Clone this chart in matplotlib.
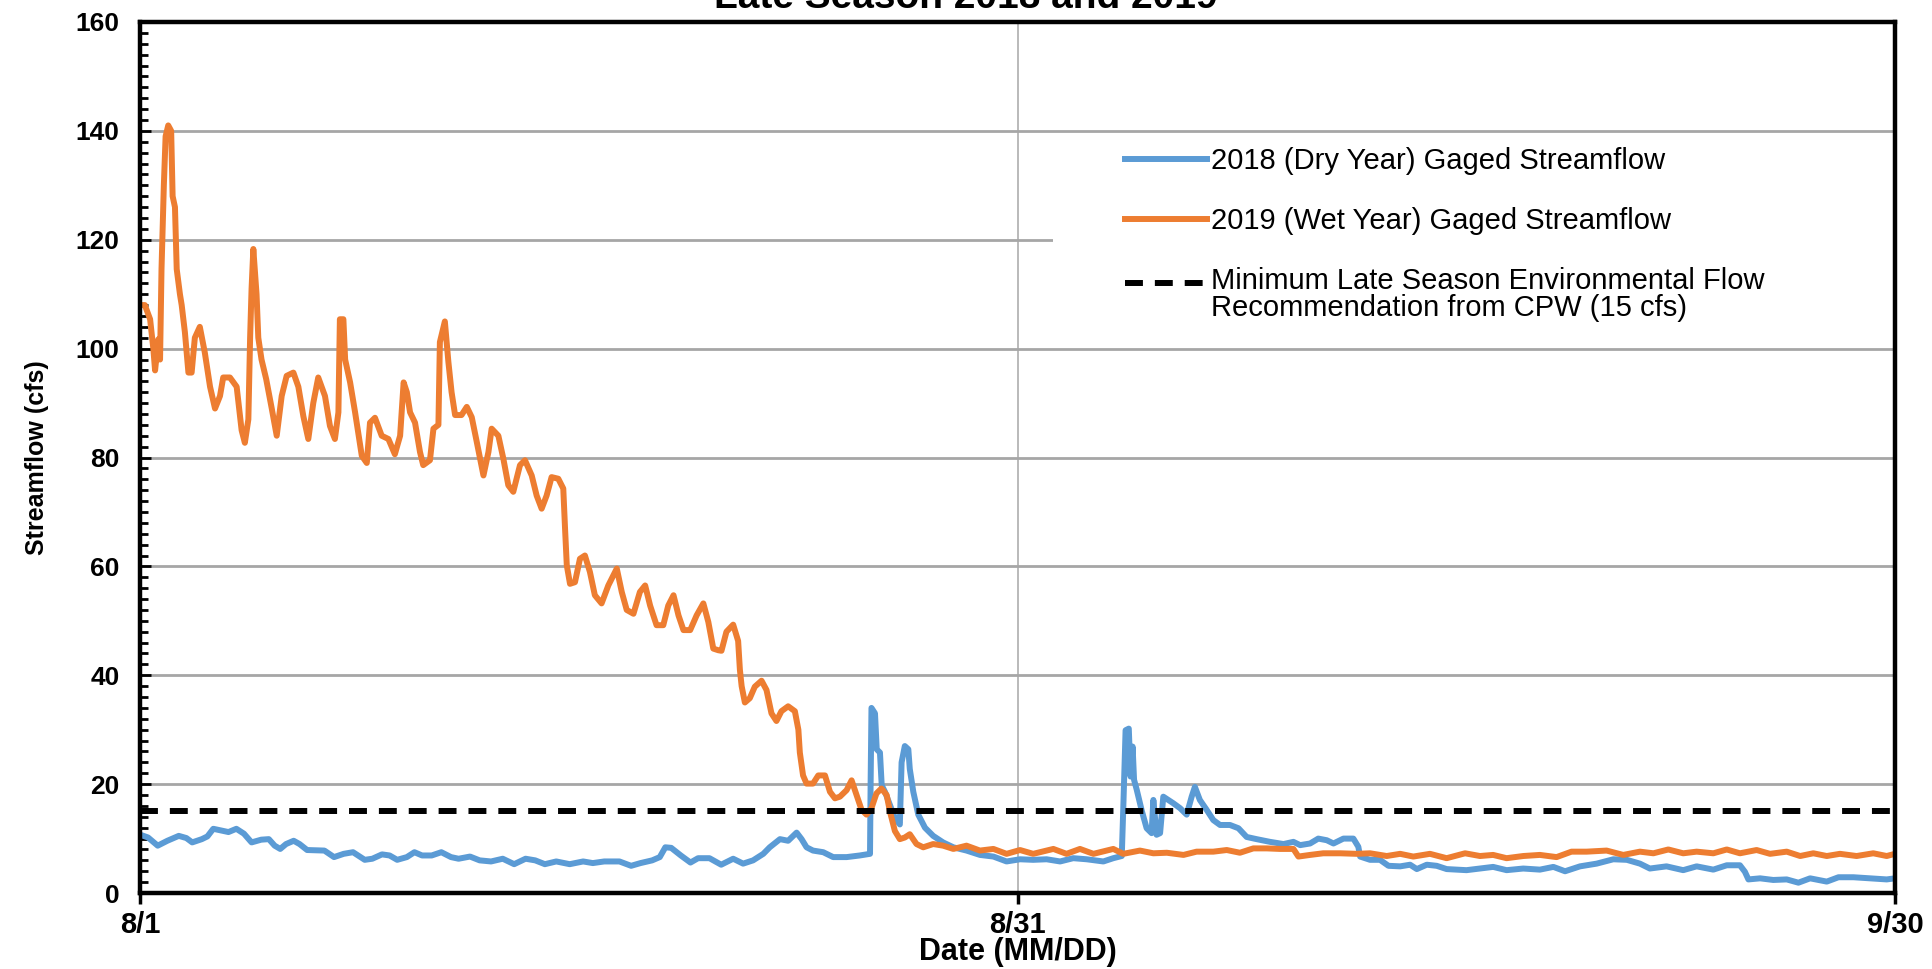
import matplotlib
matplotlib.use('Agg')
import matplotlib.pyplot as plt
import numpy as np
from matplotlib.legend_handler import HandlerLine2D
from matplotlib.patches import Rectangle
from matplotlib.ticker import MultipleLocator

plt.rcParams['font.family'] = ['Liberation Sans', 'DejaVu Sans']

# days after 8/1 and gaged flow (cfs)
days_2018 = [0.00, 0.26, 0.59, 0.92, 1.31, 1.57, 1.77, 2.10, 2.29, 2.49, 2.75, 3.01, 3.28, 3.54,
             3.80, 4.13, 4.39, 4.59, 4.78, 4.98, 5.24, 5.44, 5.70, 6.29, 6.62, 6.95, 7.27, 7.67,
             7.93, 8.26, 8.52, 8.78, 9.11, 9.37, 9.63, 9.96, 10.29, 10.62, 10.88, 11.27, 11.60,
             11.99, 12.39, 12.78, 13.17, 13.50, 13.83, 14.22, 14.68, 15.14, 15.47, 15.86, 16.38,
             16.78, 17.10, 17.50, 17.76, 17.95, 18.15, 18.48, 18.81, 19.07, 19.46, 19.86,
             20.27, 20.61, 20.95, 21.30, 21.52, 21.87, 22.15, 22.44, 22.61, 22.78, 23.00, 23.35,
             23.69, 24.15, 24.60, 24.95, 24.97, 25.00, 25.12, 25.18, 25.29, 25.35, 25.46, 25.63,
             25.80, 25.97, 26.03, 26.14, 26.26, 26.31, 26.43, 26.60, 26.83, 27.11, 27.45, 27.80,
             28.25, 28.71, 29.17, 29.62, 30.08, 30.53, 30.99, 31.45, 31.90, 32.36, 32.93, 33.27,
             33.56, 33.62, 33.69, 33.80, 33.86, 33.93, 33.98, 34.07, 34.24, 34.41, 34.58, 34.64,
             34.75, 34.87, 34.98, 35.15, 35.32, 35.55, 35.78, 35.95, 36.06, 36.23, 36.46, 36.69,
             36.92, 37.26, 37.55, 37.83, 38.17, 38.63, 39.09, 39.43, 39.66, 40.00, 40.28, 40.57,
             40.80, 41.14, 41.48, 41.65, 41.71, 42.05, 42.39, 42.68, 43.08, 43.42, 43.65, 43.99,
             44.33, 44.67, 45.35, 45.81, 46.26, 46.72, 47.29, 47.86, 48.32, 48.72, 49.23, 49.80,
             50.37, 50.83, 51.28, 51.62, 52.19, 52.76, 53.22, 53.79, 54.25, 54.70, 54.87, 54.99,
             55.39, 55.84, 56.30, 56.70, 57.10, 57.67, 58.07, 58.58, 59.15, 59.72, 60.00]
flow_2018 = [10.7, 10.2, 8.7, 9.6, 10.5, 10.1, 9.3, 9.9, 10.4, 11.8, 11.5, 11.2, 11.8, 10.9,
             9.3, 9.8, 9.9, 8.7, 8.1, 9.0, 9.6, 9.0, 7.9, 7.8, 6.6, 7.2, 7.5, 6.1,
             6.3, 7.1, 6.9, 6.1, 6.6, 7.5, 6.9, 6.9, 7.5, 6.6, 6.3, 6.7, 6.0,
             5.8, 6.3, 5.3, 6.3, 6.0, 5.3, 5.8, 5.3, 5.8, 5.5, 5.8, 5.8,
             5.0, 5.5, 6.0, 6.6, 8.4, 8.3, 6.9, 5.6, 6.4, 6.4, 5.2,
             6.3, 5.4, 6.0, 7.2, 8.4, 9.9, 9.6, 11.1, 9.9, 8.4, 7.8, 7.5,
             6.6, 6.6, 6.9, 7.2, 19.8, 34.0, 33.0, 26.4, 25.8, 19.8, 18.6, 16.2,
             13.8, 12.6, 24.0, 27.0, 26.4, 22.8, 18.6, 14.4, 12.0, 10.5, 9.3, 8.4,
             7.8, 7.0, 6.7, 5.8, 6.2, 6.1, 6.2, 5.8, 6.4, 6.2, 5.8, 6.4,
             6.8, 17.1, 29.9, 30.2, 21.4, 26.9, 20.8, 19.0, 15.2, 11.9, 11.0, 17.1,
             10.7, 11.0, 17.7, 17.1, 16.5, 15.6, 14.4, 17.7, 19.5, 17.1, 15.3, 13.4,
             12.5, 12.5, 11.9, 10.3, 9.9, 9.4, 9.0, 9.4, 8.8, 9.1, 10.0, 9.7,
             9.1, 10.0, 10.0, 8.5, 6.7, 6.1, 6.1, 5.0, 4.9, 5.2, 4.4, 5.2,
             5.0, 4.4, 4.2, 4.5, 4.8, 4.2, 4.5, 4.3, 4.8, 4.0, 4.9, 5.4,
             6.2, 6.1, 5.4, 4.5, 4.9, 4.2, 4.9, 4.3, 5.1, 5.1, 3.9, 2.5,
             2.7, 2.4, 2.5, 1.9, 2.7, 2.1, 2.9, 2.9, 2.7, 2.5, 2.7]

days_2019 = [0.00, 0.15, 0.33, 0.44, 0.50, 0.61, 0.67, 0.72, 0.80, 0.86, 0.95, 1.05, 1.10, 1.18,
             1.24, 1.35, 1.41, 1.52, 1.64, 1.75, 1.86, 2.03, 2.20, 2.38, 2.55, 2.72, 2.83, 3.06,
             3.29, 3.46, 3.57, 3.69, 3.75, 3.80, 3.86, 3.97, 4.03, 4.14, 4.30, 4.49, 4.66, 4.83,
             5.00, 5.23, 5.40, 5.57, 5.74, 5.91, 6.08, 6.31, 6.48, 6.65, 6.77, 6.82, 6.94, 7.00,
             7.17, 7.34, 7.57, 7.74, 7.85, 8.02, 8.25, 8.48, 8.70, 8.88, 9.00, 9.11, 9.22, 9.39,
             9.56, 9.67, 9.90, 10.02, 10.19, 10.24, 10.41, 10.53, 10.64, 10.76, 10.98, 11.16,
             11.33, 11.50, 11.73, 11.90, 12.01, 12.24, 12.41, 12.58, 12.75, 12.98, 13.15, 13.38,
             13.55, 13.72, 13.89, 14.06, 14.29, 14.46, 14.52, 14.58, 14.69, 14.86, 15.03, 15.20,
             15.37, 15.54, 15.77, 16.00, 16.29, 16.46, 16.63, 16.86, 17.08, 17.26, 17.43, 17.65,
             17.88, 18.05, 18.23, 18.40, 18.57, 18.80, 19.02, 19.25, 19.42, 19.59, 19.76, 19.87,
             20.04, 20.27, 20.44, 20.50, 20.56, 20.67, 20.84, 21.01, 21.24, 21.41, 21.58, 21.75,
             21.92, 22.15, 22.38, 22.50, 22.55, 22.66, 22.78, 23.00, 23.18, 23.41, 23.58, 23.75,
             23.92, 24.15, 24.32, 24.49, 24.66, 24.83, 25.00, 25.17, 25.34, 25.52, 25.63, 25.80,
             25.97, 26.14, 26.31, 26.54, 26.77, 27.11, 27.45, 27.80, 28.25, 28.71, 29.17, 29.62,
             30.08, 30.53, 31.22, 31.67, 32.13, 32.59, 33.27, 33.61, 34.18, 34.64, 35.10, 35.67,
             36.12, 36.69, 37.15, 37.60, 38.06, 38.52, 38.97, 39.43, 39.60, 40.00, 40.45, 41.03,
             41.60, 42.05, 42.62, 43.08, 43.53, 44.10, 44.67, 45.30, 45.81, 46.26, 46.72, 47.29,
             47.86, 48.43, 48.94, 49.46, 50.14, 50.71, 51.28, 51.74, 52.25, 52.76, 53.22, 53.79,
             54.25, 54.70, 55.27, 55.73, 56.30, 56.76, 57.21, 57.67, 58.12, 58.69, 59.26, 59.72,
             60.00]
flow_2019 = [108.0, 108.0, 105.4, 100.0, 96.0, 101.7, 98.0, 114.6, 130.0, 139.0, 141.0, 140.0, 128.0, 126.0,
             114.6, 110.0, 108.0, 103.0, 95.6, 95.6, 102.0, 104.0, 99.3, 93.0, 89.0, 91.3, 94.7, 94.7,
             93.0, 85.0, 82.7, 87.0, 102.0, 111.0, 118.3, 110.0, 102.0, 98.0, 94.4, 89.0, 84.0, 91.3,
             95.0, 95.6, 93.0, 87.6, 83.4, 90.0, 94.7, 91.3, 85.8, 83.4, 88.3, 105.4, 105.4, 98.0,
             93.8, 88.3, 80.3, 79.0, 86.4, 87.3, 84.0, 83.4, 80.6, 84.0, 93.8, 92.0, 88.3, 86.4,
             81.0, 78.6, 79.5, 85.3, 86.0, 101.2, 105.0, 97.6, 92.0, 87.8, 87.8, 89.3,
             87.4, 82.9, 76.7, 81.0, 85.3, 84.0, 79.8, 74.9, 73.7, 78.6, 79.5, 76.7,
             73.0, 70.6, 73.0, 76.4, 76.1, 74.3, 67.0, 60.2, 56.8, 57.1, 61.4, 62.0,
             59.0, 54.7, 53.2, 56.5, 59.6, 55.3, 52.0, 51.3, 55.3, 56.5, 52.8, 49.2,
             49.2, 52.8, 54.7, 51.0, 48.3, 48.3, 51.0, 53.2, 49.8, 44.9, 44.6, 44.5,
             48.0, 49.3, 46.3, 41.0, 38.0, 35.0, 35.8, 37.9, 39.0, 37.3, 33.0, 31.6,
             33.4, 34.3, 33.4, 30.0, 25.8, 21.6, 20.1, 20.1, 21.6, 21.6, 18.6, 17.4,
             17.7, 18.9, 20.7, 18.0, 15.3, 14.4, 15.6, 18.3, 19.2, 18.0, 15.0, 11.4,
             9.9, 10.2, 10.8, 9.0, 8.4, 9.0, 8.7, 8.1, 8.7, 7.8, 8.1, 7.2,
             7.9, 7.2, 8.1, 7.2, 8.1, 7.2, 8.1, 7.2, 7.8, 7.3, 7.4, 7.0,
             7.6, 7.6, 7.9, 7.4, 8.2, 8.2, 8.1, 8.1, 6.7, 7.0, 7.3, 7.3,
             7.2, 7.3, 6.8, 7.2, 6.7, 7.2, 6.4, 7.3, 6.8, 7.0, 6.4, 6.8,
             7.0, 6.6, 7.6, 7.6, 7.8, 7.0, 7.6, 7.3, 8.0, 7.3, 7.6, 7.3,
             8.0, 7.3, 7.9, 7.2, 7.6, 6.8, 7.3, 6.8, 7.2, 6.8, 7.3, 6.8,
             7.2]

min_flow = 15
tick_days = [0, 30, 60]
tick_labels = ['8/1', '8/31', '9/30']
y_ticks = [0, 20, 40, 60, 80, 100, 120, 140, 160]

label_2018 = '2018 (Dry Year) Gaged Streamflow'
label_2019 = '2019 (Wet Year) Gaged Streamflow'
label_min = 'Minimum Late Season Environmental Flow\nRecommendation from CPW (15 cfs)'


class TopHandler(HandlerLine2D):
    # put the handle next to the first line of a two-line label
    def __init__(self, shift, **kw):
        super().__init__(**kw)
        self.shift = shift

    def create_artists(self, legend, orig_handle, xdescent, ydescent, width, height, fontsize, trans):
        arts = super().create_artists(legend, orig_handle, xdescent, ydescent, width, height, fontsize, trans)
        for a in arts:
            a.set_ydata(np.asarray(a.get_ydata(), dtype=float) + self.shift)
        return arts


fig = plt.figure(figsize=(19.32, 9.69), dpi=100)
ax = fig.add_axes([0.0727, 0.0784, 0.9081, 0.8989])

l18, = ax.plot(days_2018, flow_2018, color='#5B9BD5', lw=4.3, zorder=2, solid_joinstyle='round')
l19, = ax.plot(days_2019, flow_2019, color='#ED7D31', lw=4.3, zorder=2.1, solid_joinstyle='round')
lmin = ax.axhline(min_flow, color='black', lw=4.3, ls=(0, (3, 2)), zorder=3)

ax.set_xlim(0, 60)
ax.set_ylim(0, 160)
ax.set_xticks(tick_days)
ax.set_xticklabels(tick_labels)
ax.set_yticks(y_ticks)
ax.yaxis.set_minor_locator(MultipleLocator(2))

ax.tick_params(axis='y', which='major', direction='in', length=8, width=2, labelsize=19, pad=15)
ax.tick_params(axis='y', which='minor', direction='in', length=6, width=2)
ax.tick_params(axis='x', which='major', direction='out', length=8, width=2.5, labelsize=21, pad=5)
for lbl in ax.get_xticklabels() + ax.get_yticklabels():
    lbl.set_fontweight('bold')

ax.set_axisbelow(True)
ax.yaxis.grid(True, color='#a6a6a6', lw=2.0)
ax.xaxis.grid(True, color='#b4b4b4', lw=1.3)
for s in ax.spines.values():
    s.set_linewidth(3.2)
    s.set_color('black')

# white block behind the legend hides the grid there
ax.add_patch(Rectangle((0.52, 0.658), 0.48, 0.207, transform=ax.transAxes,
                       facecolor='white', edgecolor='none', zorder=1))

ax.set_xlabel('Date (MM/DD)', fontsize=22, fontweight='bold')
ax.set_ylabel('Streamflow (cfs)', fontsize=18, fontweight='bold')
ax.xaxis.label.set_va('center')
ax.xaxis.set_label_coords(0.5, -0.0677)
ax.yaxis.label.set_va('center')
ax.yaxis.set_label_coords(-0.059, 0.5)

leg = ax.legend(handles=[l18, l19, lmin], labels=[label_2018, label_2019, label_min],
                loc='upper left', bbox_to_anchor=(0.5823, 0.8483), bbox_transform=fig.transFigure,
                frameon=False, fontsize=21, handlelength=2.8, handletextpad=0.14,
                labelspacing=1.1, borderpad=0, borderaxespad=0,
                handler_map={lmin: TopHandler(9)})
for t in leg.get_texts():
    t.set_linespacing(0.93)

fig.text(0.5, 1 - 8 / 969, 'Late Season 2018 and 2019', ha='center', va='baseline',
         fontsize=28, fontweight='bold')

plt.savefig('out.png', dpi=100)
plt.close()
